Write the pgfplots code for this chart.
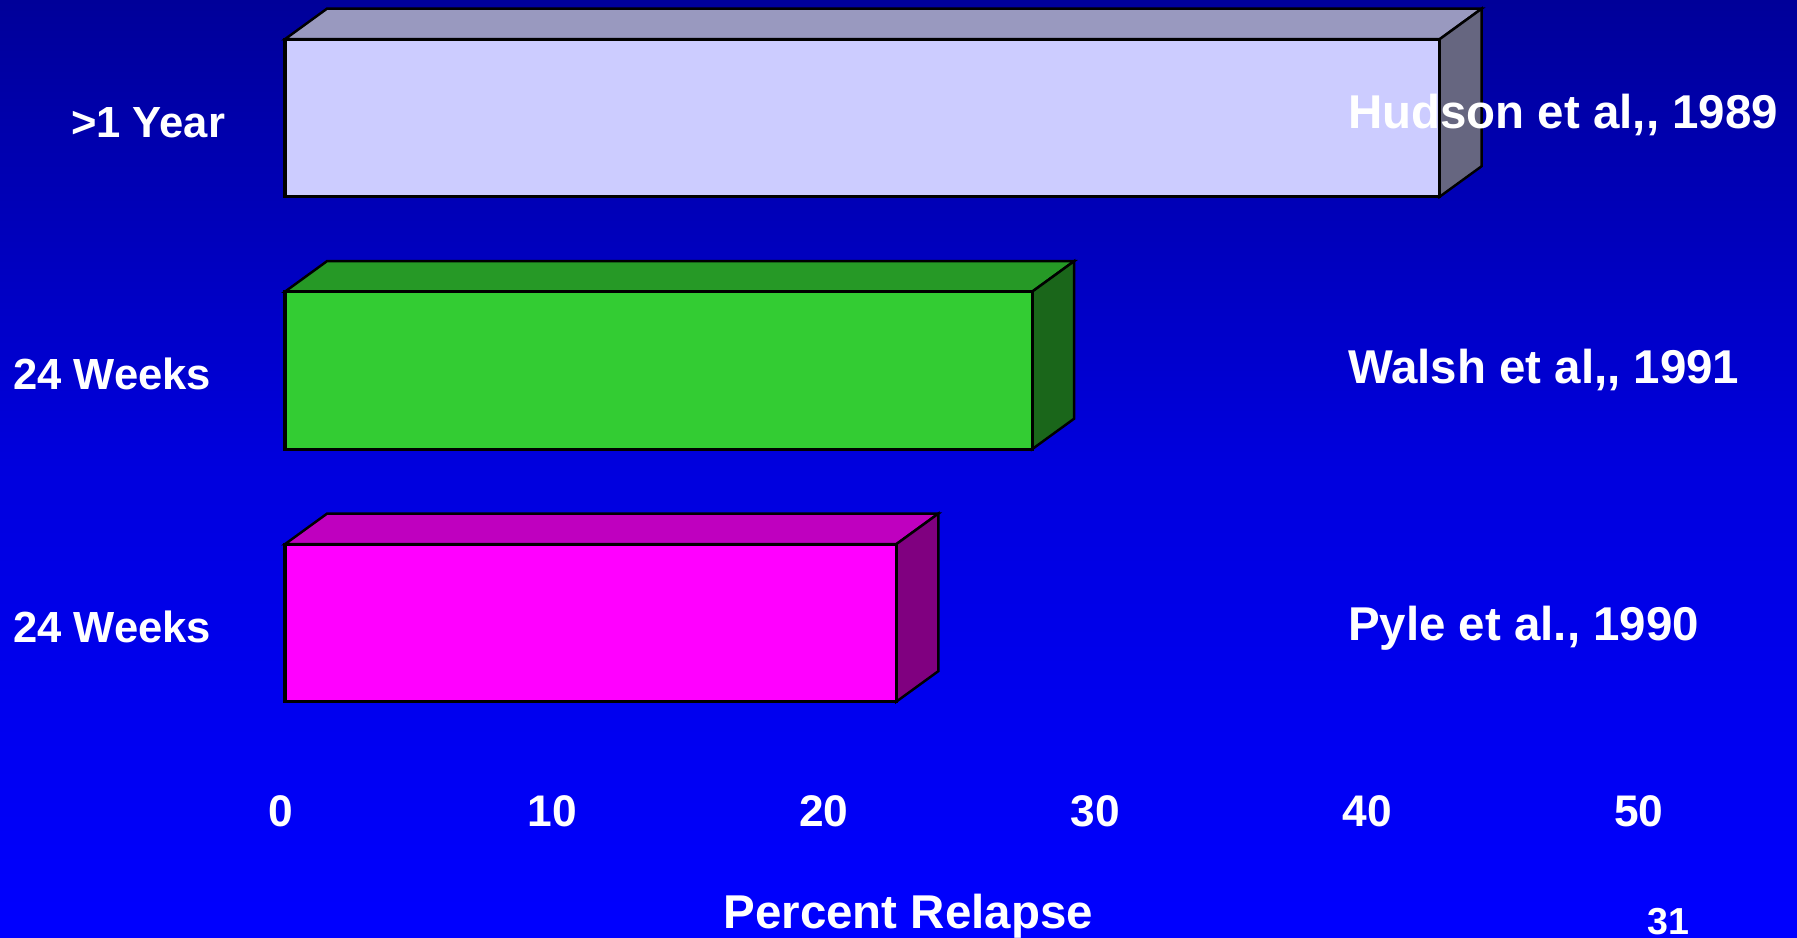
\documentclass[border=0pt]{standalone}
\usepackage{fontspec}
\setmainfont{Liberation Sans}
\usepackage{pgfplots}
\pgfplotsset{compat=1.18}

\definecolor{bgtop}{RGB}{0,0,153}
\definecolor{bgmid}{RGB}{0,0,222}
\definecolor{bgbot}{RGB}{0,0,255}
\definecolor{lavfront}{RGB}{204,204,255}
\definecolor{lavtop}{RGB}{153,153,191}
\definecolor{lavside}{RGB}{102,102,128}
\definecolor{grnfront}{RGB}{51,204,51}
\definecolor{grntop}{RGB}{38,153,38}
\definecolor{grnside}{RGB}{26,102,26}
\definecolor{pnkfront}{RGB}{255,0,255}
\definecolor{pnktop}{RGB}{191,0,191}
\definecolor{pnkside}{RGB}{128,0,128}

% depth of the fake 3d effect, in axis units
\def\hh{0.3119}
\def\dx{1.546}
\def\dy{0.1208}

% value, position, front / top / side colour
\newcommand{\slab}[5]{%
  \pgfmathsetmacro\ylo{#2-\hh}%
  \pgfmathsetmacro\yhi{#2+\hh}%
  \pgfmathsetmacro\ybk{#2+\hh+\dy}%
  \pgfmathsetmacro\ybl{#2-\hh+\dy}%
  \pgfmathsetmacro\xbk{#1+\dx}%
  \edef\faces{%
    \noexpand\addplot[fill=#4, draw=black, line width=0.7pt] coordinates {(0,\yhi) (#1,\yhi) (\xbk,\ybk) (\dx,\ybk)} -- cycle;
    \noexpand\addplot[fill=#5, draw=black, line width=0.7pt] coordinates {(#1,\ylo) (#1,\yhi) (\xbk,\ybk) (\xbk,\ybl)} -- cycle;
  }\faces
  \addplot[xbar, bar shift=0pt, bar width=0.6238, fill=#3, draw=black, line width=0.9pt] coordinates {(#1,#2)};
}

\begin{document}
\begin{tikzpicture}
\path[use as bounding box] (0,0) rectangle (17.97,9.37);
\shade[top color=bgtop, bottom color=bgbot, middle color=bgmid] (0,0) rectangle (17.97,9.37);

\begin{axis}[
    at={(2.85cm,1.3735cm)}, anchor=south west,
    x=0.2717cm, y=2.525cm,
    xmin=0, xmax=55, ymin=0.3, ymax=3.45,
    clip=false,
    axis lines*=left,
    axis line style={draw=none},
    tick style={draw=none},
    xtick={0,10,...,50},
    ytick={1,2,3},
    yticklabels={24 Weeks, 24 Weeks, {>1 Year\kern-0.141cm}},
    /pgf/number format/assume math mode=true,
    xticklabel style={anchor=base, inner sep=0pt, yshift=-0.2635cm, xshift=-0.045cm,
        text=white, font=\fontsize{12.6}{14}\selectfont\bfseries},
    yticklabel style={anchor=base east, inner sep=0pt, xshift=-0.733cm, yshift=-0.195cm,
        text=white, font=\fontsize{12.4}{14}\selectfont\bfseries},
    xlabel={Percent Relapse},
    xlabel style={at={(axis description cs:0.4171,0)}, anchor=base, inner sep=0pt,
        yshift=-1.2835cm, text=white, font=\fontsize{13.5}{15}\selectfont\bfseries},
]
\slab{22.5}{1}{pnkfront}{pnktop}{pnkside}
\slab{27.5}{2}{grnfront}{grntop}{grnside}
\slab{42.5}{3}{lavfront}{lavtop}{lavside}
\end{axis}

\begin{scope}[every node/.style={text=white, inner sep=0pt, anchor=base west,
    font=\fontsize{13.5}{15}\selectfont\bfseries}]
\node at (13.475,8.087) {Hudson et al,{},{} 1989};
\node at (13.475,5.537) {Walsh et al,{},{} 1991};
\node at (13.475,2.97) {Pyle et al., 1990};
\end{scope}
\node[text=white, inner sep=0pt, anchor=base, font=\fontsize{10.7}{12}\selectfont\bfseries]
    at (16.68,0.03) {31};
\end{tikzpicture}
\end{document}
